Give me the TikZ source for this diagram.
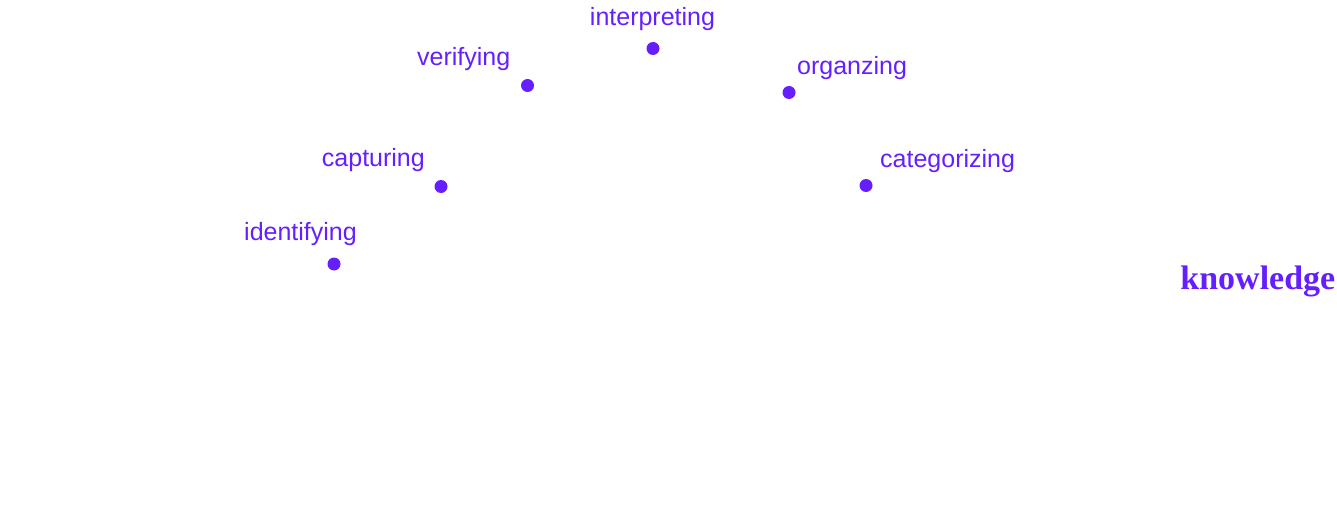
\documentclass[tikz,border=0pt]{standalone}
\usepackage{fontspec}
\setsansfont{Liberation Sans}
\newfontfamily\knowfont{Liberation Serif}
\usetikzlibrary{positioning}
\definecolor{StepPurple}{HTML}{651FFF}

\begin{document}
\begin{tikzpicture}[x=1pt,y=-1pt,
    dot/.style={circle,fill=StepPurple,inner sep=0pt,minimum size=13pt},
    lbl/.style={inner sep=0pt,text=StepPurple,font=\sffamily\fontsize{25}{30}\selectfont},
    goal/.style={inner sep=0pt,text=StepPurple,font=\knowfont\bfseries\fontsize{34}{40}\selectfont}]
    \useasboundingbox (0,0) rectangle (1337,532);
    % steps
    \node[dot] (identifying) at (334,264) {};
    \node[dot] (capturing) at (441,186.5) {};
    \node[dot] (verifying) at (527.5,85.5) {};
    \node[dot] (interpreting) at (653,48.5) {};
    \node[dot] (organzing) at (789,92.5) {};
    \node[dot] (categorizing) at (866,185.5) {};
    % labels
    \node[lbl,anchor=base east] (identifyinglbl) at (357,240) {identifying};
    \node[lbl,anchor=base east] (capturinglbl) at (425,166.5) {capturing};
    \node[lbl,anchor=base east] (verifyinglbl) at (510.5,66) {verifying};
    \node[lbl,anchor=base] (interpretinglbl) at (652.5,26) {interpreting};
    \node[lbl,anchor=base west] (organzinglbl) at (797,75) {organzing};
    \node[lbl,anchor=base west] (categorizinglbl) at (880,167) {categorizing};
    \node[goal,anchor=base east] (knowledge) at (1335.5,289) {knowledge};
  \end{tikzpicture}
\end{document}
